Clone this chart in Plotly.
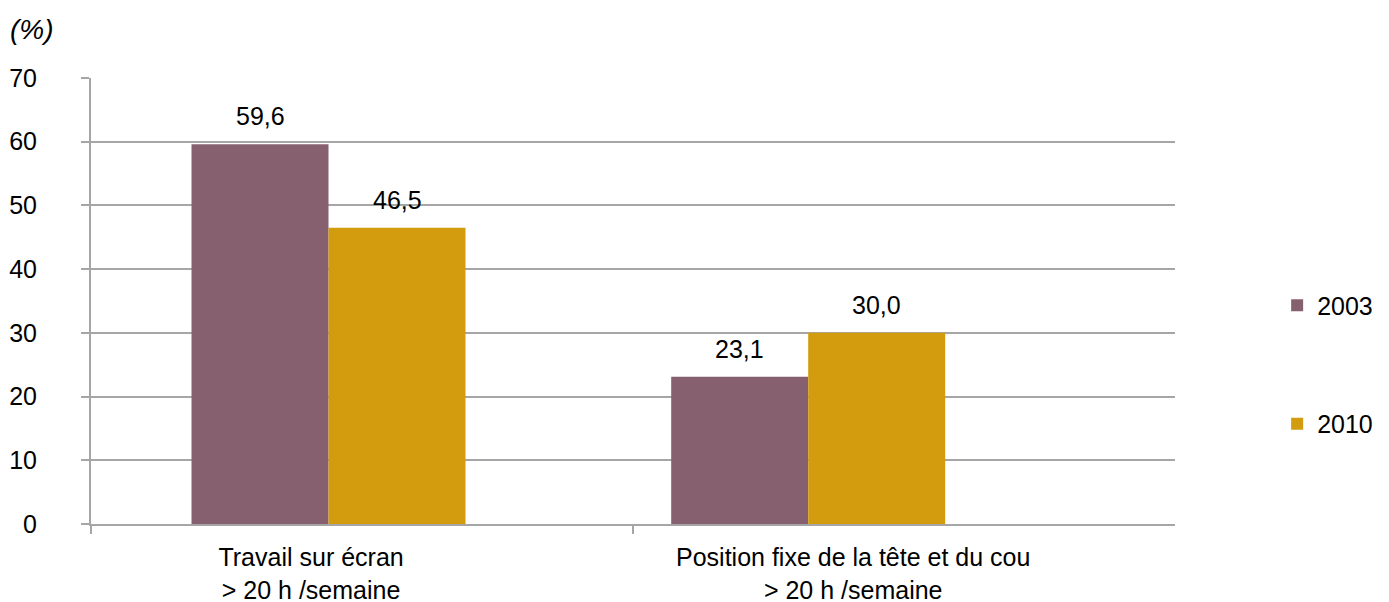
import plotly.graph_objects as go

categories = ["Travail sur écran<br>> 20 h /semaine",
              "Position fixe de la tête et du cou<br>> 20 h /semaine"]
series_names = ["2003", "2010"]
values_2003 = [59.6, 23.1]
values_2010 = [46.5, 30.0]

colors = {"2003": "#87606F", "2010": "#D39C0E"}
FONT = "Liberation Sans, Arial, Helvetica, sans-serif"
GRID = "#A6A6A6"
FS = 25

# bar geometry (in category units)
bar_w = 0.2527
offsets = {"2003": [-0.3146, -0.4298], "2010": [-0.3146 + bar_w, -0.4298 + bar_w]}

fig = go.Figure()
annos = []
for name, vals in zip(series_names, [values_2003, values_2010]):
    fig.add_trace(go.Bar(
        x=categories, y=vals, name=name, legendgroup=name,
        marker=dict(color=colors[name], line=dict(width=0)),
        width=[bar_w] * len(vals), offset=offsets[name],
        hoverinfo="x+y",
    ))
    for i, v in enumerate(vals):
        annos.append(dict(
            x=i + offsets[name][i] + bar_w / 2, y=v, xref="x", yref="y",
            text=f"{v:.1f}".replace(".", ","), showarrow=False,
            yanchor="bottom", yshift=12,
            font=dict(family=FONT, size=FS, color="#000000"),
        ))

annos.append(dict(
    x=0, y=1, xref="paper", yref="paper", xanchor="left", yanchor="top",
    text="<i>(%)</i>", showarrow=False,
    xshift=-83, yshift=66,
    font=dict(family=FONT, size=28, color="#000000"),
))

fig.update_layout(
    width=1381, height=594,
    margin=dict(l=83, r=214, t=70, b=78),
    plot_bgcolor="white", paper_bgcolor="white",
    barmode="overlay",
    font=dict(family=FONT, size=FS, color="#000000"),
    showlegend=True,
    legend=dict(xref="container", yref="container", x=0.919, y=0.4,
                xanchor="left", yanchor="middle",
                tracegroupgap=83, font=dict(size=FS, family=FONT),
                bgcolor="rgba(0,0,0,0)"),
    annotations=annos,
)
fig.update_yaxes(
    range=[0, 70], dtick=10, tick0=0, automargin=False,
    showgrid=True, gridcolor=GRID, gridwidth=2,
    showline=True, linecolor=GRID, linewidth=2,
    ticks="outside", ticklen=8, tickcolor=GRID, tickwidth=2,
    ticklabelstandoff=39, zeroline=False,
    tickfont=dict(family=FONT, size=FS, color="#000000"),
)
fig.update_xaxes(
    type="category", range=[-0.5, 1.4995], automargin=False,
    showline=True, linecolor=GRID, linewidth=2,
    ticks="outside", tickson="boundaries", ticklen=8, tickcolor=GRID, tickwidth=2,
    ticklabelshift=-51, ticklabelstandoff=10,
    tickfont=dict(family=FONT, size=FS, color="#000000"),
)

fig.write_html("out.html")
